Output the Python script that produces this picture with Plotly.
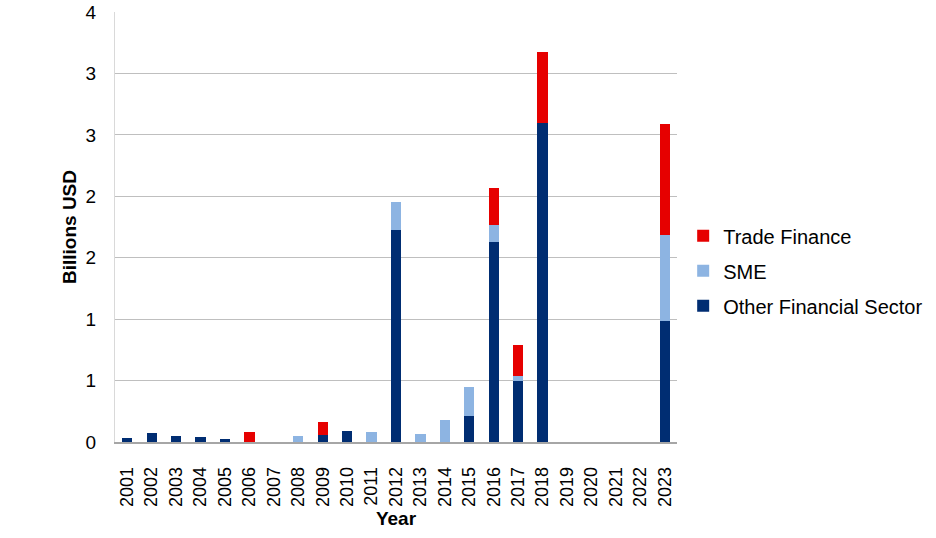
import plotly.graph_objects as go

years = [str(y) for y in range(2001, 2024)]
other = [0.033, 0.07, 0.05, 0.04, 0.022, 0, 0, 0, 0.06, 0.087, 0, 1.725, 0, 0, 0.209, 1.625, 0.494, 2.596, 0, 0, 0, 0, 0.987]
sme = [0, 0, 0, 0, 0, 0, 0, 0.05, 0, 0, 0.084, 0.226, 0.062, 0.18, 0.241, 0.144, 0.041, 0, 0, 0, 0, 0, 0.698]
trade = [0, 0, 0, 0, 0, 0.084, 0, 0, 0.105, 0, 0, 0, 0, 0, 0, 0.301, 0.255, 0.578, 0, 0, 0, 0, 0.903]
ytickvals = [0, 0.5, 1, 1.5, 2, 2.5, 3, 3.5]
yticktext = ["0", "1", "1", "2", "2", "3", "3", "4"]

font = "Liberation Sans, Arial, sans-serif"
fig = go.Figure()
fig.add_trace(go.Bar(x=years, y=other, name="Other Financial Sector", legendgroup="a", legendrank=3,
                     marker_color="#002D72", marker_line_width=0))
fig.add_trace(go.Bar(x=years, y=sme, name="SME", legendgroup="b", legendrank=2,
                     marker_color="#8DB4E2", marker_line_width=0))
fig.add_trace(go.Bar(x=years, y=trade, name="Trade Finance", legendgroup="c", legendrank=1,
                     marker_color="#E60000", marker_line_width=0))

fig.update_layout(
    barmode="stack",
    bargap=0.58,
    width=936, height=538,
    margin=dict(l=115, r=259, t=12, b=96, autoexpand=False),
    paper_bgcolor="white", plot_bgcolor="white",
    font=dict(family=font, size=19, color="black"),
    legend=dict(traceorder="grouped", x=1.011, y=0.398, yanchor="middle", xanchor="left",
                font=dict(size=20), bgcolor="rgba(0,0,0,0)", tracegroupgap=6, itemwidth=30),
)
fig.update_xaxes(
    type="category", tickangle=-90, showline=True, linecolor="#A6A6A6", linewidth=1.5,
    ticks="", ticklabelstandoff=16, automargin=False,
    title=dict(text="<b>Year</b>", font=dict(size=19), standoff=6), tickfont=dict(size=18),
)
fig.update_yaxes(
    range=[0, 3.5], tickvals=ytickvals, ticktext=yticktext, showgrid=True, gridcolor="#BFBFBF",
    gridwidth=1, showline=True, linecolor="#D9D9D9", linewidth=1, zeroline=False,
    ticks="", ticklabelstandoff=14, automargin=False,
    title=dict(text="<b>Billions USD</b>", font=dict(size=19), standoff=3), tickfont=dict(size=19),
)
fig.write_html("out.html", config={"displayModeBar": False},
               post_script="document.body.style.margin='0';")
